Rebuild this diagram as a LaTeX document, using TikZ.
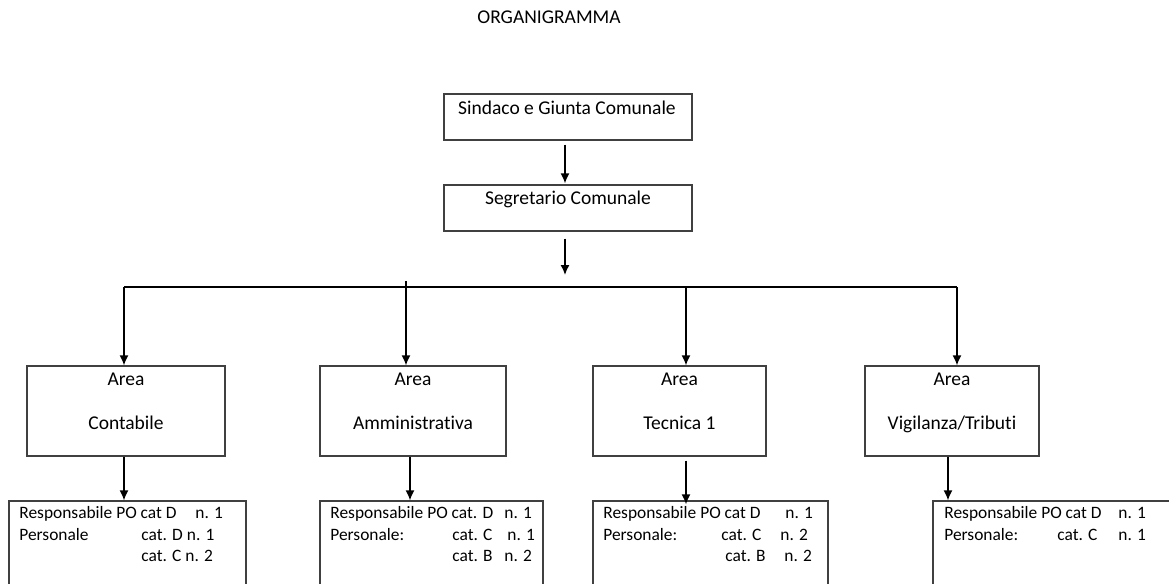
\documentclass[tikz,border=0pt]{standalone}
\usepackage{fontspec}
\setmainfont{Carlito}[Ligatures=NoCommon]
\usetikzlibrary{arrows.meta}

\tikzset{
  box/.style={draw=black!75, line width=0.6pt, inner sep=0pt},
  arr/.style={-{Latex[length=5pt,width=4.5pt]}, line width=0.75pt},
  bus/.style={line width=0.6pt},
  txt/.style={inner sep=0pt, anchor=base},
  txtl/.style={inner sep=0pt, anchor=base west, font=\fontsize{8.7}{10}\selectfont},
}

\begin{document}
\begin{tikzpicture}[x=0.5pt, y=-0.5pt, font=\fontsize{9.75}{11}\selectfont]
\useasboundingbox (0,0) rectangle (1169,584);
\clip (0,0) rectangle (1169,584);

\node[txt] (title) at (549,23) {ORGANIGRAMMA};

% vertice
\node[box, minimum width=124pt, minimum height=23pt] (sindaco) at (568,117) {};
\node[txt] (sindacoT) at (567,114) {Sindaco e Giunta Comunale};
\node[box, minimum width=124pt, minimum height=23pt] (segretario) at (568,208) {};
\node[txt] (segretarioT) at (568,204) {Segretario Comunale};

\draw[arr] ([xshift=-1.5pt,yshift=-2pt]sindaco.south) -- ([xshift=-1.5pt,yshift=0.5pt]segretario.north);
\coordinate (busM) at (565,287);
\draw[arr] ([xshift=-1.5pt,yshift=-3.5pt]segretario.south) -- ([yshift=6pt]busM);

% aree
\node[box, minimum width=99pt, minimum height=45pt] (contabile) at (126,411) {};
\node[txt] (contabileA) at (126,385) {Area};
\node[txt] (contabileN) at (126,429) {Contabile};
\node[box, minimum width=93pt, minimum height=45pt] (amministrativa) at (413,411) {};
\node[txt] (amministrativaA) at (413,385) {Area};
\node[txt] (amministrativaN) at (413,429) {Amministrativa};
\node[box, minimum width=86.5pt, minimum height=45pt] (tecnica) at (679.5,411) {};
\node[txt] (tecnicaA) at (679.5,385) {Area};
\node[txt] (tecnicaN) at (679.5,429) {Tecnica 1};
\node[box, minimum width=87pt, minimum height=45pt] (vigilanza) at (952,411) {};
\node[txt] (vigilanzaA) at (952,385) {Area};
\node[txt] (vigilanzaN) at (952,429) {Vigilanza/Tributi};

\coordinate (busL) at (124,287);
\coordinate (busR) at (957,287);
\coordinate (tapB) at (406,281);
\coordinate (tapC) at (686,287);
\draw[bus] (busL) -- (busR);
\draw[arr] (busL) -- (busL |- contabile.north);
\draw[arr] (tapB) -- (tapB |- amministrativa.north);
\draw[arr] (tapC) -- (tapC |- tecnica.north);
\draw[arr] (busR) -- (busR |- vigilanza.north);

% personale
\node[box, minimum width=118.5pt, minimum height=65pt] (pcontabile) at (127.5,566) {};
\node[box, minimum width=111.5pt, minimum height=65pt] (pamministrativa) at (431.5,566) {};
\node[box, minimum width=117.5pt, minimum height=65pt] (ptecnica) at (710.5,566) {};
\node[box, minimum width=128.5pt, minimum height=65pt] (pvigilanza) at (1061.5,566) {};

\draw[arr] ([xshift=-1pt]contabile.south) -- ([xshift=-1pt]contabile.south |- pcontabile.north);
\draw[arr] ([xshift=-1.5pt]amministrativa.south) -- ([xshift=-1.5pt]amministrativa.south |- pamministrativa.north);
\draw[arr] ([xshift=3.25pt,yshift=-2pt]tecnica.south) -- ([xshift=3.25pt,yshift=-2pt]tecnica.south |- ptecnica.north);
\draw[arr] ([xshift=-2pt]vigilanza.south) -- ([xshift=-2pt]vigilanza.south |- pvigilanza.north);

\node[txtl] (c1) at (19,518) {Responsabile PO cat D};
\node[txtl] (c1n) at (195,518) {n. 1};
\node[txtl] (c2) at (19,540) {Personale};
\node[txtl] (c2n) at (141,540) {cat. D n. 1};
\node[txtl] (c3n) at (141,561) {cat. C n. 2};

\node[txtl] (a1) at (330,518) {Responsabile PO cat. D};
\node[txtl] (a1n) at (504,518) {n. 1};
\node[txtl] (a2) at (330,540) {Personale:};
\node[txtl] (a2c) at (452,540) {cat. C};
\node[txtl] (a2n) at (507,540) {n. 1};
\node[txtl] (a3c) at (452,561) {cat. B};
\node[txtl] (a3n) at (504,561) {n. 2};

\node[txtl] (t1) at (603,518) {Responsabile PO cat D};
\node[txtl] (t1n) at (785,518) {n. 1};
\node[txtl] (t2) at (603,540) {Personale:};
\node[txtl] (t2c) at (721,540) {cat. C};
\node[txtl] (t2n) at (780,540) {n. 2};
\node[txtl] (t3c) at (725,561) {cat. B};
\node[txtl] (t3n) at (784,561) {n. 2};

\node[txtl] (v1) at (944,518) {Responsabile PO cat D};
\node[txtl] (v1n) at (1118,518) {n. 1};
\node[txtl] (v2) at (944,540) {Personale:};
\node[txtl] (v2c) at (1057,540) {cat. C};
\node[txtl] (v2n) at (1118,540) {n. 1};
\end{tikzpicture}
\end{document}
